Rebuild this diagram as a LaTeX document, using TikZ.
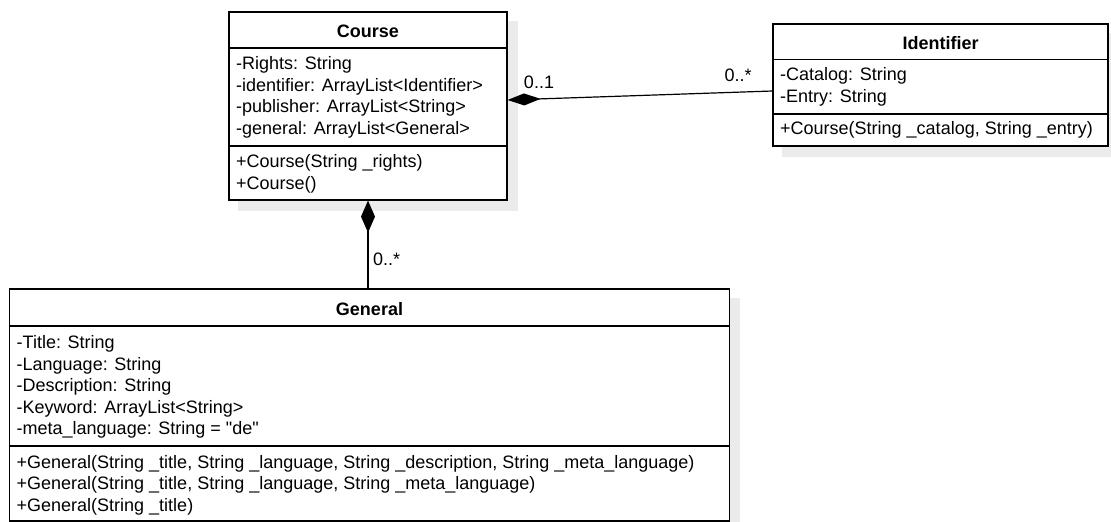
\documentclass[tikz,border=0pt]{standalone}
\usepackage{fontspec}
\setmainfont{Liberation Sans}[Ligatures=TeXOff]
\usetikzlibrary{arrows.meta,backgrounds}

\tikzset{
  classbox/.style={draw=black, line width=1.2pt, fill=white, inner sep=0pt},
  shadowfill/.style={fill=black!8},
  sep/.style={line width=1.2pt},
  ctitle/.style={font=\fontsize{18}{21.5}\selectfont\bfseries, inner sep=0pt},
  members/.style={font=\fontsize{18}{21.5}\selectfont, align=left, anchor=west, inner sep=0pt},
  mult/.style={font=\fontsize{18}{21.5}\selectfont, inner sep=0pt},
  conn/.style={line width=1.2pt, draw=black}
}

\begin{document}
\begin{tikzpicture}[x=1pt,y=-1pt]
\useasboundingbox (0,0) rectangle (1111,522);

% class boxes
\node[classbox, minimum width=278pt, minimum height=188pt] (course) at (368,106) {};
\node[classbox, minimum width=335pt, minimum height=122pt] (identifier) at (940.5,85) {};
\node[classbox, minimum width=720pt, minimum height=232pt] (general) at (369.5,405) {};

% drop shadows
\begin{scope}[on background layer]
  \foreach \n in {course,identifier,general}
    \fill[shadowfill] ([shift={(10pt,-10pt)}]\n.south west) rectangle ([shift={(10pt,-10pt)}]\n.north east);
\end{scope}

% compartment separators
\draw[sep] (course.west |- 0,48) -- (course.east |- 0,48);
\draw[sep] (course.west |- 0,146) -- (course.east |- 0,146);
\draw[sep] (identifier.west |- 0,59.5) -- (identifier.east |- 0,59.5);
\draw[sep] (identifier.west |- 0,114) -- (identifier.east |- 0,114);
\draw[sep] (general.west |- 0,326) -- (general.east |- 0,326);
\draw[sep] (general.west |- 0,446) -- (general.east |- 0,446);

% Course
\node[ctitle] (coursetitle) at (368,31) {Course};
\node[members] (courseattr) at (236,97.5) {-Rights: String\\-identifier: ArrayList<Identifier>\\-publisher: ArrayList<String>\\-general: ArrayList<General>};
\node[members] (courseops) at (236,174) {+Course(String \_rights)\\+Course()};

% Identifier
\node[ctitle] (identtitle) at (940.5,43) {Identifier};
\node[members] (identattr) at (780,87) {-Catalog: String\\-Entry: String};
\node[members] (identops) at (780,130) {+Course(String \_catalog, String \_entry)};

% General
\node[ctitle] (gentitle) at (369.5,309) {General};
\node[members] (genattr) at (16.5,387) {-Title: String\\-Language: String\\-Description: String\\-Keyword: ArrayList<String>\\-meta\_language: String = "de"};
\node[members] (genops) at (16.5,485) {+General(String \_title, String \_language, String \_description, String \_meta\_language)\\+General(String \_title, String \_language, String \_meta\_language)\\+General(String \_title)};

% compositions
\draw[conn, {Diamond[length=33pt,width=12pt]}-] ([yshift=6pt]course.east) -- ([yshift=-6pt]identifier.west);
\draw[conn, {Diamond[length=32pt,width=14pt]}-] (course.south) -- (course.south |- general.north);

% multiplicities
\node[mult] (m1) at (539,82) {0..1};
\node[mult] (m2) at (738,75) {0..*};
\node[mult, anchor=west] (m3) at (373,259) {0..*};
\end{tikzpicture}
\end{document}
